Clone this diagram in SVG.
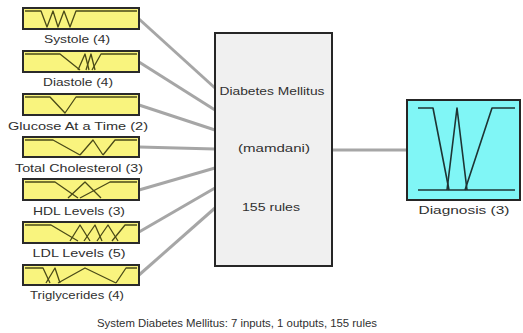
<svg xmlns="http://www.w3.org/2000/svg" width="523" height="333" viewBox="0 0 523 333">
<style>
.bg{fill:#ffffff}
.in{fill:#f9f47e;stroke:#2a2a2a;stroke-width:2}
.mf{fill:none;stroke:#4a4a18;stroke-width:1.3;stroke-linejoin:round}
.omf{fill:none;stroke:#1e3434;stroke-width:1.6;stroke-linejoin:round}
.core{fill:#f0f0f0;stroke:#262626;stroke-width:2}
.out{fill:#80f6f6;stroke:#262626;stroke-width:2}
.con{stroke:#a6a6a6;stroke-width:3;fill:none}
text{font-family:"Liberation Sans",Arial,sans-serif;font-size:10.5px;fill:#303030}
</style>
<rect class="bg" x="0" y="0" width="523" height="333"/>
<g id="connectors">
<line class="con" x1="139" y1="19" x2="215" y2="88"/>
<line class="con" x1="139" y1="62" x2="215" y2="110"/>
<line class="con" x1="139" y1="105" x2="215" y2="130"/>
<line class="con" x1="139" y1="147" x2="215" y2="149"/>
<line class="con" x1="139" y1="190" x2="215" y2="168"/>
<line class="con" x1="139" y1="232" x2="215" y2="188"/>
<line class="con" x1="139" y1="275" x2="215" y2="208"/>
<line class="con" x1="332" y1="150" x2="407" y2="150"/>
</g>
<g id="systole">
<rect class="in" x="23" y="8" width="116" height="21"/>
<polyline class="mf" points="25,11 41,11 47,27 53,11 58,27 64,11 70,27 76,11 137,11"/>
<text x="77" y="43" text-anchor="middle" textLength="66" lengthAdjust="spacingAndGlyphs">Systole (4)</text>
</g>
<g id="diastole">
<rect class="in" x="23" y="51" width="116" height="21"/>
<polyline class="mf" points="25,54 60,54 80,70"/>
<polyline class="mf" points="78,70 85,54 89,70"/>
<polyline class="mf" points="86,70 91,54 95,70"/>
<polyline class="mf" points="92,70 101,54 137,54"/>
<text x="78" y="86" text-anchor="middle" textLength="70" lengthAdjust="spacingAndGlyphs">Diastole (4)</text>
</g>
<g id="glucose">
<rect class="in" x="23" y="94" width="116" height="21"/>
<polyline class="mf" points="25,97 50,97 65,113 76,97 137,97"/>
<text x="78" y="130" text-anchor="middle" textLength="140" lengthAdjust="spacingAndGlyphs">Glucose At a Time (2)</text>
</g>
<g id="cholesterol">
<rect class="in" x="23" y="137" width="116" height="20"/>
<polyline class="mf" points="25,140 53,140 80,155"/>
<polyline class="mf" points="80,155 93,140 103,155"/>
<polyline class="mf" points="103,155 115,140 137,140"/>
<text x="79" y="172" text-anchor="middle" textLength="128" lengthAdjust="spacingAndGlyphs">Total Cholesterol (3)</text>
</g>
<g id="hdl">
<rect class="in" x="23" y="179" width="116" height="21"/>
<polyline class="mf" points="25,182 55,182 78,198"/>
<polyline class="mf" points="68,198 85,182 101,198"/>
<polyline class="mf" points="80,198 110,182 137,182"/>
<text x="79" y="215" text-anchor="middle" textLength="92" lengthAdjust="spacingAndGlyphs">HDL Levels (3)</text>
</g>
<g id="ldl">
<rect class="in" x="23" y="222" width="116" height="21"/>
<polyline class="mf" points="25,225 51,225 78,241"/>
<polyline class="mf" points="70,241 80,225 90,241"/>
<polyline class="mf" points="84,241 95,225 102,241"/>
<polyline class="mf" points="97,241 108,225 118,241"/>
<polyline class="mf" points="112,241 125,225 137,225"/>
<text x="79" y="257" text-anchor="middle" textLength="93" lengthAdjust="spacingAndGlyphs">LDL Levels (5)</text>
</g>
<g id="triglycerides">
<rect class="in" x="23" y="265" width="116" height="20"/>
<polyline class="mf" points="25,268 43,268 50,283"/>
<polyline class="mf" points="46,283 55,268 60,283"/>
<polyline class="mf" points="58,283 85,268 116,283"/>
<polyline class="mf" points="116,283 126,268 137,268"/>
<text x="77" y="299" text-anchor="middle" textLength="94" lengthAdjust="spacingAndGlyphs">Triglycerides (4)</text>
</g>
<g id="system">
<rect class="core" x="215" y="33" width="117" height="233"/>
<text x="272" y="95" text-anchor="middle" textLength="105" lengthAdjust="spacingAndGlyphs">Diabetes Mellitus</text>
<text x="274" y="152" text-anchor="middle" textLength="72" lengthAdjust="spacingAndGlyphs">(mamdani)</text>
<text x="271" y="211" text-anchor="middle" textLength="58" lengthAdjust="spacingAndGlyphs">155 rules</text>
</g>
<g id="diagnosis">
<rect class="out" x="407" y="100" width="113" height="100"/>
<polyline class="omf" points="418,108 433,108 449,190"/>
<polyline class="omf" points="447,190 457,108 467,190"/>
<polyline class="omf" points="465,190 492,108 515,108"/>
<line class="omf" x1="418" y1="190" x2="515" y2="190"/>
<text x="464" y="214" text-anchor="middle" textLength="91" lengthAdjust="spacingAndGlyphs">Diagnosis (3)</text>
</g>
<text x="237" y="327" text-anchor="middle" textLength="280" lengthAdjust="spacingAndGlyphs">System Diabetes Mellitus: 7 inputs, 1 outputs, 155 rules</text>
</svg>
